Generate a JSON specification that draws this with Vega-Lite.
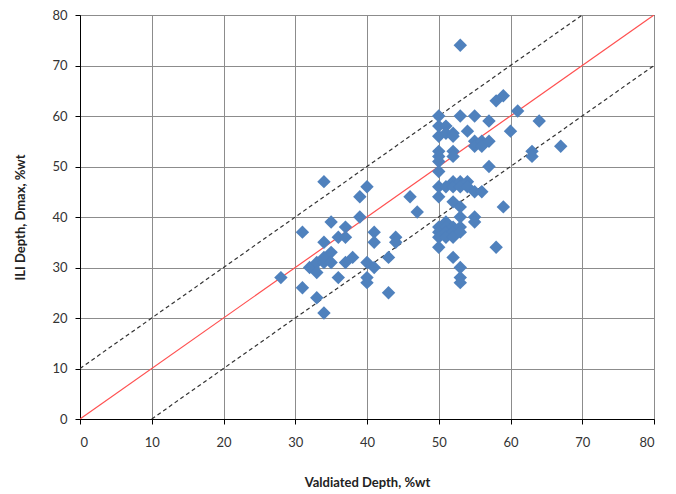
{
  "$schema": "https://vega.github.io/schema/vega-lite/v6.json",
  "width": 574,
  "height": 404,
  "autosize": {"type": "none"},
  "padding": {"left": 80, "top": 15, "right": 22, "bottom": 75},
  "background": "white",
  "config": {
    "view": {"stroke": "#000000", "strokeWidth": 1},
    "font": "Lato",
    "axis": {
      "grid": true,
      "gridColor": "#8c8c8c",
      "gridWidth": 1,
      "domainColor": "#000000",
      "tickColor": "#000000",
      "tickSize": 5,
      "labelFont": "Lato",
      "labelFontSize": 13,
      "labelColor": "#333333",
      "titleFont": "Lato",
      "titleFontSize": 13,
      "titleFontWeight": "bold",
      "titleColor": "#222222"
    }
  },
  "datasets": {
    "pts": [
      {"v": 28, "ili": 28}, {"v": 31, "ili": 37}, {"v": 31, "ili": 26}, {"v": 32.5, "ili": 30}, {"v": 32, "ili": 30},
      {"v": 33, "ili": 31}, {"v": 33, "ili": 29}, {"v": 33, "ili": 24}, {"v": 34, "ili": 47}, {"v": 34, "ili": 35},
      {"v": 34, "ili": 31}, {"v": 34, "ili": 32}, {"v": 34, "ili": 21}, {"v": 35, "ili": 39}, {"v": 35, "ili": 33},
      {"v": 35, "ili": 31}, {"v": 36, "ili": 36}, {"v": 36, "ili": 28}, {"v": 37, "ili": 38}, {"v": 37, "ili": 36},
      {"v": 37, "ili": 31}, {"v": 38, "ili": 32}, {"v": 39, "ili": 44}, {"v": 39, "ili": 40}, {"v": 40, "ili": 46},
      {"v": 40, "ili": 31}, {"v": 40, "ili": 28}, {"v": 40, "ili": 27}, {"v": 41, "ili": 37}, {"v": 41, "ili": 35},
      {"v": 41, "ili": 30}, {"v": 43, "ili": 32}, {"v": 43, "ili": 25}, {"v": 44, "ili": 36}, {"v": 44, "ili": 35},
      {"v": 46, "ili": 44}, {"v": 47, "ili": 41},
      {"v": 50, "ili": 60}, {"v": 50, "ili": 58}, {"v": 50, "ili": 56}, {"v": 50, "ili": 53}, {"v": 50, "ili": 52},
      {"v": 50, "ili": 51}, {"v": 50, "ili": 49}, {"v": 50, "ili": 46}, {"v": 50, "ili": 44}, {"v": 50, "ili": 38},
      {"v": 50, "ili": 37}, {"v": 50, "ili": 36}, {"v": 50, "ili": 34}, {"v": 51, "ili": 58}, {"v": 51, "ili": 56.6},
      {"v": 51, "ili": 46}, {"v": 51, "ili": 39}, {"v": 51, "ili": 38}, {"v": 51, "ili": 37}, {"v": 51, "ili": 36},
      {"v": 52, "ili": 56.6}, {"v": 52, "ili": 56}, {"v": 52, "ili": 53}, {"v": 52, "ili": 52}, {"v": 52, "ili": 47},
      {"v": 52, "ili": 46}, {"v": 52, "ili": 43}, {"v": 52, "ili": 38}, {"v": 52, "ili": 37}, {"v": 52, "ili": 36},
      {"v": 52, "ili": 32}, {"v": 53, "ili": 74}, {"v": 53, "ili": 60}, {"v": 53, "ili": 47}, {"v": 53, "ili": 46},
      {"v": 53, "ili": 42}, {"v": 53, "ili": 40}, {"v": 53, "ili": 38}, {"v": 53, "ili": 37}, {"v": 53, "ili": 30},
      {"v": 53, "ili": 28}, {"v": 53, "ili": 27}, {"v": 54, "ili": 57}, {"v": 54, "ili": 47}, {"v": 54, "ili": 46},
      {"v": 55, "ili": 60}, {"v": 55, "ili": 55}, {"v": 55, "ili": 54}, {"v": 55, "ili": 45}, {"v": 55, "ili": 40},
      {"v": 55, "ili": 39}, {"v": 56, "ili": 55}, {"v": 56, "ili": 54}, {"v": 56, "ili": 45}, {"v": 57, "ili": 59},
      {"v": 57, "ili": 55}, {"v": 57, "ili": 50}, {"v": 58, "ili": 63}, {"v": 58, "ili": 34}, {"v": 59, "ili": 64},
      {"v": 59, "ili": 42}, {"v": 60, "ili": 57}, {"v": 61, "ili": 61}, {"v": 63, "ili": 53}, {"v": 63, "ili": 52},
      {"v": 64, "ili": 59}, {"v": 67, "ili": 54}
    ],
    "lines": [
      {"x": 0, "y": 0, "s": "unity"}, {"x": 80, "y": 80, "s": "unity"},
      {"x": 0, "y": 10, "s": "upper"}, {"x": 70, "y": 80, "s": "upper"},
      {"x": 10, "y": 0, "s": "lower"}, {"x": 80, "y": 70, "s": "lower"}
    ]
  },
  "layer": [
    {
      "data": {"name": "lines"},
      "transform": [{"filter": "datum.s !== 'unity'"}],
      "mark": {"type": "line", "color": "#333333", "strokeWidth": 1.2, "strokeDash": [4, 3], "clip": true},
      "encoding": {
        "x": {"field": "x", "type": "quantitative", "scale": {"domain": [0, 80], "nice": false}},
        "y": {"field": "y", "type": "quantitative", "scale": {"domain": [0, 80], "nice": false}},
        "detail": {"field": "s"}
      }
    },
    {
      "data": {"name": "lines"},
      "transform": [{"filter": "datum.s === 'unity'"}],
      "mark": {"type": "line", "color": "#ff5050", "strokeWidth": 1.2, "clip": true},
      "encoding": {
        "x": {"field": "x", "type": "quantitative"},
        "y": {"field": "y", "type": "quantitative"}
      }
    },
    {
      "data": {"name": "pts"},
      "mark": {"type": "point", "shape": "diamond", "filled": true, "size": 180, "color": "#4f81bd", "opacity": 1},
      "encoding": {
        "x": {
          "field": "v", "type": "quantitative",
          "scale": {"domain": [0, 80], "nice": false},
          "axis": {"values": [0, 10, 20, 30, 40, 50, 60, 70, 80], "title": "Valdiated Depth, %wt", "labelPadding": 12, "titlePadding": 27}
        },
        "y": {
          "field": "ili", "type": "quantitative",
          "scale": {"domain": [0, 80], "nice": false},
          "axis": {"values": [0, 10, 20, 30, 40, 50, 60, 70, 80], "title": "ILI Depth, Dmax, %wt", "labelPadding": 8, "titlePadding": 24}
        }
      }
    }
  ]
}
